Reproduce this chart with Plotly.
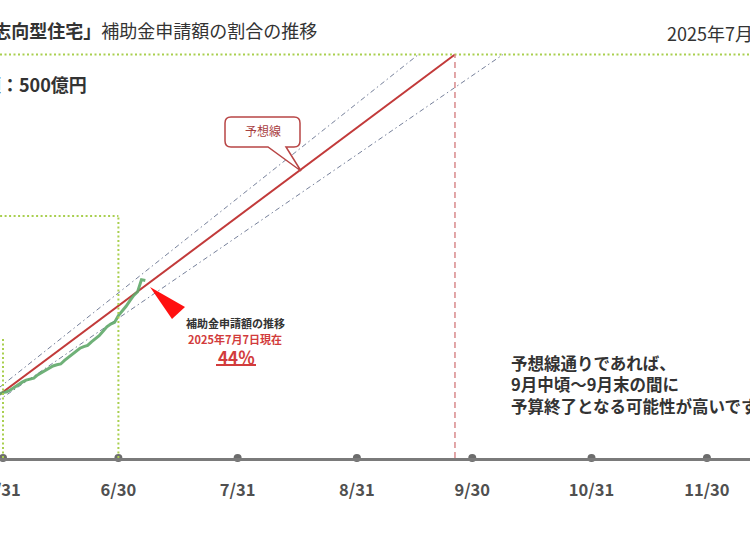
import plotly.graph_objects as go

# ---------------- data ----------------
tick_dates = ["2025-05-31", "2025-06-30", "2025-07-31", "2025-08-31",
              "2025-09-30", "2025-10-31", "2025-11-30"]
tick_labels = ["5/31", "6/30", "7/31", "8/31", "9/30", "10/31", "11/30"]

actual_dates = [
    "2025-05-29", "2025-05-30", "2025-05-31", "2025-06-01", "2025-06-02",
    "2025-06-03", "2025-06-04", "2025-06-05", "2025-06-06", "2025-06-07",
    "2025-06-08", "2025-06-09", "2025-06-10", "2025-06-11", "2025-06-12",
    "2025-06-13", "2025-06-14", "2025-06-15", "2025-06-16", "2025-06-17",
    "2025-06-18", "2025-06-19", "2025-06-20", "2025-06-21", "2025-06-22",
    "2025-06-23", "2025-06-24", "2025-06-25", "2025-06-26", "2025-06-27",
    "2025-06-28", "2025-06-29", "2025-06-30", "2025-07-01", "2025-07-02",
    "2025-07-03", "2025-07-04", "2025-07-05", "2025-07-06", "2025-07-07",
]
actual_values = [
    15.3, 15.9, 16.2, 16.4, 16.9,
    17.6, 18.1, 18.8, 19.3, 19.6,
    19.8, 20.6, 21.2, 21.6, 22.3,
    22.8, 23.1, 23.3, 24.2, 25.0,
    25.6, 26.5, 27.2, 27.6, 27.9,
    28.8, 29.6, 30.3, 31.4, 32.5,
    33.2, 33.6, 35.3, 36.4, 37.6,
    39.0, 40.3, 41.2, 44.2, 44.0,
]

forecast_dates = ["2025-05-08", "2025-09-25 12:00"]
forecast_values = [0, 100]
upper_dates = ["2025-05-07", "2025-09-16"]
upper_values = [0, 100]
lower_dates = ["2025-05-08", "2025-10-08"]
lower_values = [0, 100]

milestone_dates = ["2025-05-31", "2025-06-30"]
milestone_values = [30, 60]
budget_pct = 100
budget_end_date = "2025-09-25 12:00"

title_bold = "「GX志向型住宅」"
title_rest = "補助金申請額の割合の推移"
date_text = "2025年7月 時点"
budget_text = "予算額：500億円"
callout_text = "予想線"
note_lines = ["補助金申請額の推移", "2025年7月7日現在", "44％"]
conclusion_lines = ["予想線通りであれば、", "9月中頃～9月末の間に", "予算終了となる可能性が高いです"]

# ---------------- layout helpers ----------------
W, H = 750, 545
PLOT_H = 458
FONT = "Noto Sans CJK JP"
X_RANGE = ["2025-05-30 05:17", "2025-12-11 04:48"]
Y_RANGE = [0, 113.5]


def P(x, y):
    return x / W, (PLOT_H - y) / PLOT_H


def path(points_cmds):
    out = []
    for cmd, pts in points_cmds:
        s = cmd
        for (x, y) in pts:
            px, py = P(x, y)
            s += f" {px:.5f},{py:.5f}"
        out.append(s)
    return " ".join(out) + " Z"


fig = go.Figure()

GREEN_DOT = "#a9cf4f"

# band lines
for d, v in ((upper_dates, upper_values), (lower_dates, lower_values)):
    fig.add_trace(go.Scatter(x=d, y=v, mode="lines",
                             line=dict(color="#76809a", width=1, dash="5px,3px,1.5px,3px"),
                             hoverinfo="skip"))

# forecast line
fig.add_trace(go.Scatter(x=forecast_dates, y=forecast_values, mode="lines",
                         line=dict(color="#c23a3a", width=2), hoverinfo="skip"))

# actual line
fig.add_trace(go.Scatter(x=actual_dates, y=actual_values, mode="lines",
                         line=dict(color="rgba(95,168,105,0.9)", width=3), hoverinfo="skip"))

# axis dots
fig.add_trace(go.Scatter(x=tick_dates, y=[0] * len(tick_dates), mode="markers",
                         marker=dict(size=8, color="#6c6c6c"), cliponaxis=False,
                         hoverinfo="skip"))

shapes = []
# 100% budget line
shapes.append(dict(type="line", xref="paper", yref="y", x0=0, x1=1,
                   y0=budget_pct, y1=budget_pct,
                   line=dict(color=GREEN_DOT, width=2, dash="2px,2.5px")))
# milestone boxes
for d, v in zip(milestone_dates, milestone_values):
    shapes.append(dict(type="line", xref="x", yref="y", x0=d, x1=d, y0=0, y1=v,
                       line=dict(color=GREEN_DOT, width=2, dash="2px,2.5px")))
shapes.append(dict(type="line", xref="x", yref="y", x0="2025-05-01", x1=milestone_dates[1],
                   y0=milestone_values[1], y1=milestone_values[1],
                   line=dict(color=GREEN_DOT, width=2, dash="2px,2.5px")))
# predicted budget end
shapes.append(dict(type="line", xref="x", yref="y", x0=budget_end_date, x1=budget_end_date,
                   y0=0, y1=budget_pct,
                   line=dict(color="#d88a8c", width=1.5, dash="6px,4px")))

# red pointer triangle
shapes.append(dict(type="path", xref="paper", yref="paper",
                   path=path([("M", [(150, 287)]), ("L", [(185, 307)]), ("L", [(172, 319)])]),
                   fillcolor="#ff1010", line=dict(width=0), layer="above"))

# callout box
L_, R_, T_, B_, r = 225, 300, 117, 147, 6
cmds = [
    ("M", [(L_ + r, T_)]), ("L", [(R_ - r, T_)]), ("Q", [(R_, T_), (R_, T_ + r)]),
    ("L", [(R_, B_ - r)]), ("Q", [(R_, B_), (R_ - r, B_)]),
    ("L", [(286, B_)]), ("L", [(301, 171)]), ("L", [(268, B_)]),
    ("L", [(L_ + r, B_)]), ("Q", [(L_, B_), (L_, B_ - r)]),
    ("L", [(L_, T_ + r)]), ("Q", [(L_, T_), (L_ + r, T_)]),
]
shapes.append(dict(type="path", xref="paper", yref="paper", path=path(cmds),
                   fillcolor="white", line=dict(color="#b84545", width=1.5), layer="above"))

# underline under 44%
ux0, uy = P(216, 365)
ux1, _ = P(256, 365)
shapes.append(dict(type="line", xref="paper", yref="paper", x0=ux0, x1=ux1, y0=uy, y1=uy,
                   line=dict(color="#d23c3c", width=2)))

annotations = []


def ann(text, x, y, size, color="#333333", xanchor="center", yanchor="middle", align="center"):
    px, py = P(x, y)
    annotations.append(dict(text=text, x=px, y=py, xref="paper", yref="paper",
                            xanchor=xanchor, yanchor=yanchor, align=align, showarrow=False,
                            borderpad=0,
                            font=dict(family=FONT, size=size, color=color)))


ann(f"<b>{title_bold}</b>{title_rest}", 318, 30, 18, xanchor="right")
ann(date_text, 666, 33, 18, xanchor="left")
ann(f"<b>{budget_text}</b>", 88, 84, 18, xanchor="right")
ann(callout_text, 262.5, 131, 12, color="#a8403f")
ann(f"<b>{note_lines[0]}</b>", 235, 323, 11, color="#333333")
ann(f"<b>{note_lines[1]}</b>", 235, 339, 11, color="#d23c3c")
ann(f"<b>{note_lines[2]}</b>", 236, 356, 17, color="#d23c3c")
for i, line in enumerate(conclusion_lines):
    ann(f"<b>{line}</b>", 510, 363 + i * 21.5, 16.5, xanchor="left")

fig.update_layout(
    width=W, height=H,
    margin=dict(l=0, r=0, t=0, b=H - PLOT_H, pad=0),
    paper_bgcolor="white", plot_bgcolor="white",
    showlegend=False,
    shapes=shapes, annotations=annotations,
    font=dict(family=FONT),
    xaxis=dict(type="date", range=X_RANGE, showgrid=False, zeroline=False,
               showline=True, linecolor="#7a7a7a", linewidth=3,
               tickvals=tick_dates, ticktext=tick_labels, ticks="",
               ticklabelstandoff=15, ticklabeloverflow="allow",
               tickfont=dict(family=FONT, size=16.5, color="#505050", weight="bold"),
               fixedrange=True, automargin=False),
    yaxis=dict(range=Y_RANGE, visible=False, fixedrange=True),
)

fig.write_html("out.html", config={"displayModeBar": False},
               post_script="document.body.style.margin='0';document.body.style.overflow='hidden';")
